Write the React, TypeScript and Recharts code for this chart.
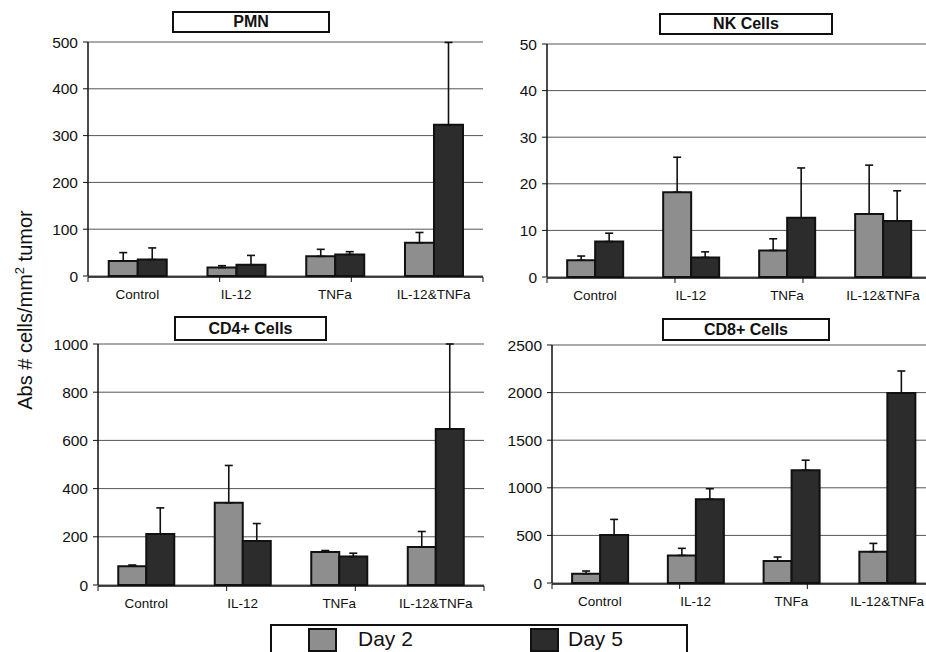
import React from 'react';
import { BarChart, Bar, XAxis, YAxis, CartesianGrid, ErrorBar, ReferenceLine } from 'recharts';

const categories = ['Control', 'IL-12', 'TNFa', 'IL-12&TNFa'];
const seriesNames = ['Day 2', 'Day 5'];

const pmnDay2 = [32, 18, 42, 71];
const pmnDay2Top = [50, 22, 57, 93];
const pmnDay5 = [35, 24, 46, 323];
const pmnDay5Top = [60, 44, 52, 499];
const pmnTicks = [0, 100, 200, 300, 400, 500];

const nkDay2 = [3.6, 18.2, 5.7, 13.5];
const nkDay2Top = [4.5, 25.7, 8.2, 24.0];
const nkDay5 = [7.6, 4.2, 12.7, 12.0];
const nkDay5Top = [9.4, 5.4, 23.4, 18.5];
const nkTicks = [0, 10, 20, 30, 40, 50];

const cd4Day2 = [78, 341, 137, 158];
const cd4Day2Top = [83, 496, 143, 222];
const cd4Day5 = [212, 183, 118, 647];
const cd4Day5Top = [320, 255, 132, 1000];
const cd4Ticks = [0, 200, 400, 600, 800, 1000];

const cd8Day2 = [98, 290, 231, 329];
const cd8Day2Top = [126, 364, 273, 416];
const cd8Day5 = [503, 881, 1185, 1997];
const cd8Day5Top = [668, 990, 1290, 2227];
const cd8Ticks = [0, 500, 1000, 1500, 2000, 2500];

const boundaryTicks = [0, 1, 2, 3, 4];

const FONT = '"Liberation Sans", Arial, Helvetica, sans-serif';
const DAY2 = '#8e8e8e';
const DAY5 = '#2c2c2c';
const INK = '#111';

function buildRows(d2: number[], d2Top: number[], d5: number[], d5Top: number[]) {
  return categories.map((c, i) => ({
    cat: c,
    d2: d2[i],
    d5: d5[i],
    e2: [0, Math.max(0, d2Top[i] - d2[i])],
    e5: [0, Math.max(0, d5Top[i] - d5[i])],
  }));
}

type PanelProps = {
  left: number;
  top: number;
  width: number;
  height: number;
  margin: { top: number; right: number; bottom: number; left: number };
  yWidth: number;
  ticks: number[];
  rows: any[];
};

function Panel({ left, top, width, height, margin, yWidth, ticks, rows }: PanelProps) {
  return (
    <div style={{ position: 'absolute', left, top, width, height }}>
      <BarChart width={width} height={height} data={rows} margin={margin} barCategoryGap="21%" barGap={0}>
        <CartesianGrid xAxisId="cat" vertical={false} stroke="#555" strokeWidth={1} />
        <XAxis
          xAxisId="n"
          type="number"
          domain={[0, 4]}
          ticks={boundaryTicks}
          allowDataOverflow
          height={1}
          tickSize={5}
          tickFormatter={() => ''}
          axisLine={{ stroke: INK, strokeWidth: 1.5 }}
          tickLine={{ stroke: INK, strokeWidth: 1 }}
        />
        <XAxis
          xAxisId="cat"
          dataKey="cat"
          height={1}
          axisLine={false}
          tickLine={false}
          tickMargin={7}
          interval={0}
          tick={{ fontSize: 13.5, fill: INK, fontFamily: FONT }}
        />
        <YAxis
          width={yWidth}
          domain={[ticks[0], ticks[ticks.length - 1]]}
          ticks={ticks}
          interval={0}
          tickSize={5}
          tickMargin={5}
          axisLine={{ stroke: INK, strokeWidth: 1.5 }}
          tickLine={{ stroke: INK }}
          tick={{ fontSize: 15.5, fill: INK, fontFamily: FONT }}
        />
        <ReferenceLine xAxisId="n" x={4} stroke="#333" strokeWidth={1} />
        <Bar xAxisId="cat" dataKey="d2" name={seriesNames[0]} fill={DAY2} stroke={INK} strokeWidth={2} isAnimationActive={false}>
          <ErrorBar dataKey="e2" width={4} stroke={INK} strokeWidth={1.6} />
        </Bar>
        <Bar xAxisId="cat" dataKey="d5" name={seriesNames[1]} fill={DAY5} stroke={INK} strokeWidth={2} isAnimationActive={false}>
          <ErrorBar dataKey="e5" width={4} stroke={INK} strokeWidth={1.6} />
        </Bar>
      </BarChart>
    </div>
  );
}

function TitleBox({ left, top, width, height, text }: { left: number; top: number; width: number; height: number; text: string }) {
  return (
    <div
      style={{
        position: 'absolute',
        left,
        top,
        width,
        height,
        boxSizing: 'border-box',
        border: `2px solid ${INK}`,
        background: '#fff',
        fontFamily: FONT,
        fontWeight: 'bold',
        fontSize: 16,
        color: INK,
        textAlign: 'center',
        lineHeight: `${height - 4}px`,
      }}
    >
      {text}
    </div>
  );
}

export default function App() {
  return (
    <div
      style={{
        position: 'absolute',
        left: 0,
        top: 0,
        width: 926,
        height: 652,
        overflow: 'hidden',
        background: '#fff',
        fontFamily: FONT,
      }}
    >
      <Panel left={0} top={0} width={500} height={315} margin={{ top: 42, right: 17, bottom: 37, left: 0 }} yWidth={88} ticks={pmnTicks} rows={buildRows(pmnDay2, pmnDay2Top, pmnDay5, pmnDay5Top)} />
      <Panel left={460} top={0} width={480} height={315} margin={{ top: 44, right: 9, bottom: 36, left: 0 }} yWidth={87} ticks={nkTicks} rows={buildRows(nkDay2, nkDay2Top, nkDay5, nkDay5Top)} />
      <Panel left={0} top={300} width={500} height={320} margin={{ top: 44, right: 16, bottom: 33, left: 0 }} yWidth={98} ticks={cd4Ticks} rows={buildRows(cd4Day2, cd4Day2Top, cd4Day5, cd4Day5Top)} />
      <Panel left={460} top={300} width={480} height={320} margin={{ top: 45, right: 5, bottom: 35, left: 0 }} yWidth={92} ticks={cd8Ticks} rows={buildRows(cd8Day2, cd8Day2Top, cd8Day5, cd8Day5Top)} />

      <TitleBox left={172} top={11} width={158} height={22} text="PMN" />
      <TitleBox left={659} top={13} width={174} height={22} text="NK Cells" />
      <TitleBox left={174} top={316} width={153} height={25} text="CD4+ Cells" />
      <TitleBox left={662} top={318} width={168} height={23} text="CD8+ Cells" />

      <div
        style={{
          position: 'absolute',
          left: 25 - 140,
          top: 310 - 13,
          width: 280,
          height: 26,
          lineHeight: '26px',
          textAlign: 'center',
          transform: 'rotate(-90deg)',
          fontSize: 20,
          color: INK,
          fontFamily: FONT,
          whiteSpace: 'nowrap',
        }}
      >
        Abs # cells/mm<sup style={{ fontSize: 13, verticalAlign: 'top', lineHeight: '16px' }}>2</sup> tumor
      </div>

      <div
        style={{
          position: 'absolute',
          left: 270,
          top: 624,
          width: 418,
          height: 50,
          boxSizing: 'border-box',
          border: `2px solid ${INK}`,
          background: '#fff',
        }}
      >
        <div style={{ position: 'absolute', left: 36, top: 2, width: 29, height: 24, boxSizing: 'border-box', border: `2px solid ${INK}`, background: DAY2 }} />
        <div style={{ position: 'absolute', left: 86, top: 0, fontSize: 21, lineHeight: '26px', color: INK, fontFamily: FONT }}>{seriesNames[0]}</div>
        <div style={{ position: 'absolute', left: 258, top: 2, width: 29, height: 24, boxSizing: 'border-box', border: `2px solid ${INK}`, background: DAY5 }} />
        <div style={{ position: 'absolute', left: 296, top: 0, fontSize: 21, lineHeight: '26px', color: INK, fontFamily: FONT }}>{seriesNames[1]}</div>
      </div>
    </div>
  );
}
